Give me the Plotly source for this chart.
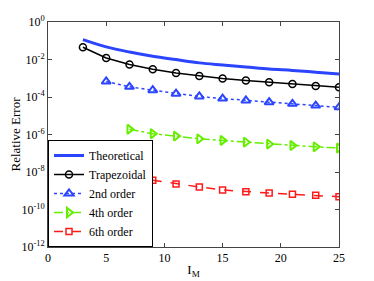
import plotly.graph_objects as go

x_theo = [3, 5, 7, 9, 11, 13, 15, 17, 19, 21, 23, 25]
theoretical = [0.115, 0.047, 0.025, 0.015, 0.0099, 6.6e-3, 5.1e-3, 4.0e-3, 3.1e-3, 2.6e-3, 2.1e-3, 1.7e-3]

x_trap = [3, 5, 7, 9, 11, 13, 15, 17, 19, 21, 23, 25]
trapezoidal = [4.5e-2, 1.2e-2, 5.4e-3, 3.0e-3, 1.9e-3, 1.3e-3, 9.7e-4, 7.6e-4, 6.2e-4, 5.0e-4, 3.9e-4, 3.3e-4]

x_2nd = [5, 7, 9, 11, 13, 15, 17, 19, 21, 23, 25]
order2 = [6.7e-4, 3.5e-4, 2.3e-4, 1.5e-4, 1.07e-4, 8.3e-5, 6.5e-5, 5.3e-5, 4.3e-5, 3.5e-5, 2.8e-5]

x_4th = [7, 9, 11, 13, 15, 17, 19, 21, 23, 25]
order4 = [1.9e-6, 1.1e-6, 8.2e-7, 5.9e-7, 4.8e-7, 3.9e-7, 3.1e-7, 2.6e-7, 2.2e-7, 1.9e-7]

x_6th = [9, 11, 13, 15, 17, 19, 21, 23, 25]
order6 = [3.6e-9, 2.3e-9, 1.6e-9, 1.1e-9, 8.9e-10, 7.6e-10, 6.5e-10, 5.7e-10, 4.8e-10]

xticks = [0, 5, 10, 15, 20, 25]
yticks = [1e-12, 1e-10, 1e-8, 1e-6, 1e-4, 1e-2, 1e0]
yticktext = ["10<sup>-12</sup>", "10<sup>-10</sup>", "10<sup>-8</sup>", "10<sup>-6</sup>",
             "10<sup>-4</sup>", "10<sup>-2</sup>", "10<sup>0</sup>"]

FONT = "Liberation Serif"
BLUE = "#2b45ff"
GREEN = "#66ee00"
RED = "#ff1a1a"

fig = go.Figure()
fig.add_trace(go.Scatter(x=x_theo, y=theoretical, mode="lines", name="Theoretical",
                         line=dict(color=BLUE, width=3, shape="spline")))
fig.add_trace(go.Scatter(x=x_trap, y=trapezoidal, mode="lines+markers", name="Trapezoidal",
                         line=dict(color="black", width=1.5),
                         marker=dict(symbol="circle-open", size=7, color="black", line=dict(width=1.5))))
fig.add_trace(go.Scatter(x=x_2nd, y=order2, mode="lines+markers", name="2nd order",
                         line=dict(color=BLUE, width=1.5, dash="dot"),
                         marker=dict(symbol="triangle-up-open", size=8, color=BLUE, line=dict(width=2))))
fig.add_trace(go.Scatter(x=x_4th, y=order4, mode="lines+markers", name="4th order",
                         line=dict(color=GREEN, width=1.5, dash="dashdot"),
                         marker=dict(symbol="triangle-right-open", size=8, color=GREEN, line=dict(width=2))))
fig.add_trace(go.Scatter(x=x_6th, y=order6, mode="lines+markers", name="6th order",
                         line=dict(color=RED, width=1.5, dash="dash"),
                         marker=dict(symbol="square-open", size=6, color=RED, line=dict(width=1.5))))

# the page body adds an 8 px offset, so the figure is 366x273 and margins are shifted
fig.update_layout(
    width=366, height=273,
    margin=dict(l=40, r=35, t=14, b=34, autoexpand=False),
    paper_bgcolor="white", plot_bgcolor="white",
    font=dict(family=FONT, size=13, color="black"),
    showlegend=True,
    legend=dict(x=0, y=0, xanchor="left", yanchor="bottom",
                bordercolor="black", borderwidth=1, bgcolor="white",
                font=dict(family=FONT, size=12), itemwidth=30,
                tracegroupgap=0),
)
fig.update_xaxes(range=[0, 25], tickvals=xticks, ticks="inside", ticklen=4,
                 showline=True, linecolor="#444", linewidth=1, mirror="ticks",
                 showgrid=False, zeroline=False, automargin=False,
                 title=dict(text="I<sub>M</sub>", standoff=0, font=dict(size=13)),
                 tickfont=dict(size=12))
fig.update_yaxes(type="log", range=[-12, 0], tickvals=yticks, ticktext=yticktext,
                 ticks="inside", ticklen=4,
                 showline=True, linecolor="#444", linewidth=1, mirror="ticks",
                 showgrid=False, zeroline=False, automargin=False,
                 title=dict(text="Relative Error", standoff=3, font=dict(size=13)),
                 tickfont=dict(size=12))

fig.write_html("out.html")
